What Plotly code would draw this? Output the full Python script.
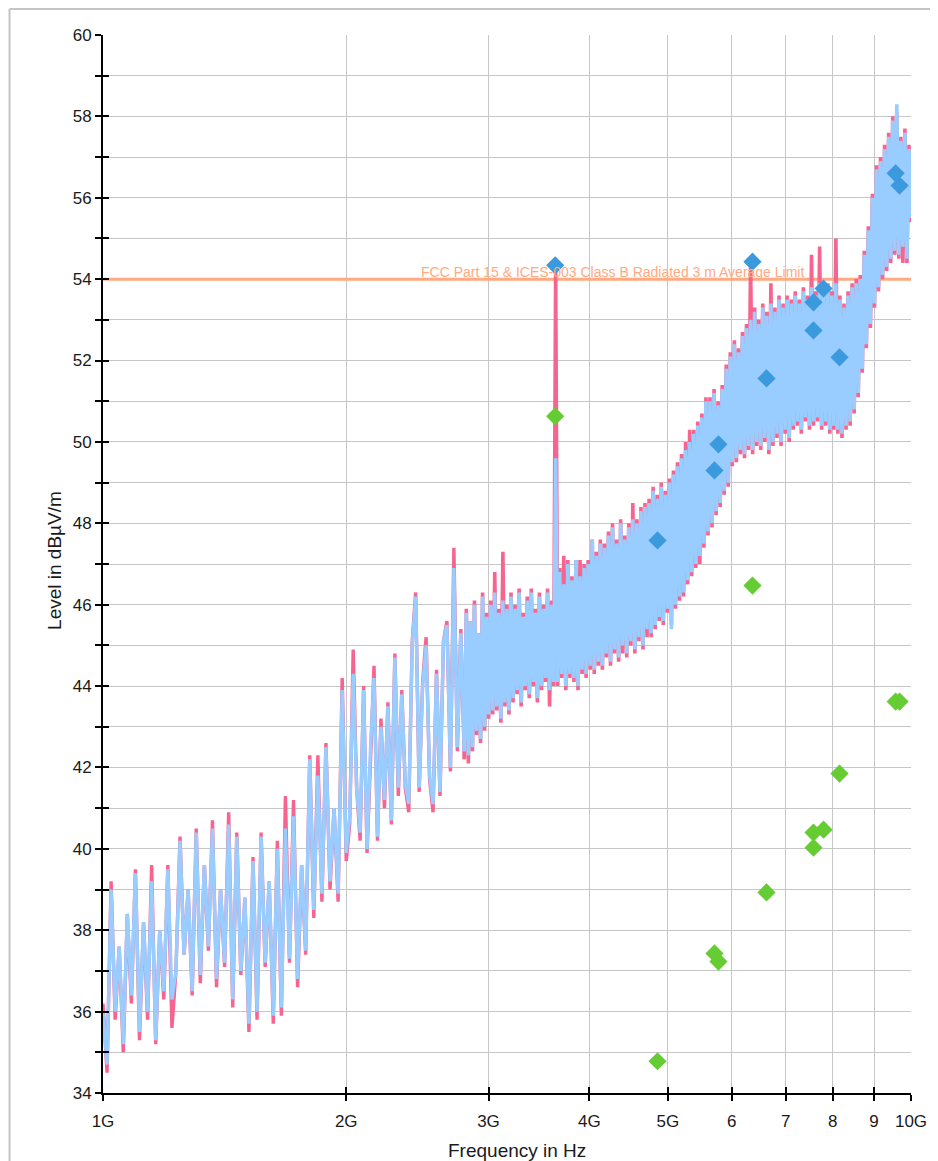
import numpy as np
import plotly.graph_objects as go

# ---------------- data ----------------
# sweep grid (Hz): three sweep segments
seg_a = np.geomspace(1e9, 2e9, 61)
seg_b = np.geomspace(2e9, 2.8e9, 35)[1:]
seg_c = np.geomspace(2.8e9, 1e10, 221)[1:]

# light-blue trace (dBuV/m)
blue_a = [36.0, 34.7, 39.0, 36.0, 37.6, 35.2, 38.4, 36.4, 39.4, 35.5,
          38.2, 36.0, 39.2, 35.3, 38.0, 36.5, 39.5, 36.3, 37.0, 40.2,
          37.4, 39.0, 36.5, 40.4, 36.9, 39.6, 37.6, 40.5, 36.8, 39.0,
          37.2, 40.6, 36.3, 40.3, 37.0, 38.8, 35.7, 39.7, 36.0, 40.3,
          37.2, 39.2, 35.9, 40.0, 36.1, 40.5, 37.3, 40.8, 36.8, 39.6,
          37.5, 42.2, 38.5, 41.8, 38.9, 42.5, 39.2, 41.0, 38.9, 43.9,
          39.9]
blue_b = [40.8, 44.3, 41.5, 40.4, 43.9, 40.0, 42.5, 44.2, 40.3, 43.0,
          41.2, 43.5, 40.7, 44.7, 41.5, 43.8, 41.6, 41.1, 45.0, 46.2,
          41.5, 44.0, 45.0, 41.8, 41.1, 44.3, 41.4, 45.1, 45.5, 42.0,
          46.9, 42.5, 45.3, 42.4]
blue_c = [45.8, 42.3, 45.6, 42.5, 46.0, 42.9, 45.3, 42.7, 46.2, 43.0, 45.7,
          43.3, 46.0, 43.4, 46.3, 43.5, 45.8, 43.2, 46.1, 43.6, 45.9, 43.4, 46.2,
          43.7, 45.9, 43.9, 46.3, 43.6, 45.7, 44.0, 46.1, 43.8, 46.3, 44.1, 45.8,
          43.7, 46.2, 44.0, 45.9, 44.2, 46.3, 43.9, 46.0, 44.1,
          49.6,
          44.1, 46.8, 44.3, 46.5, 44.0, 47.0, 44.3, 46.6, 44.2, 47.1, 44.0, 46.7,
          44.4, 46.9, 44.3, 47.0, 44.5, 47.6,
          44.4, 47.2, 44.6, 47.5, 44.5, 47.4, 44.8, 47.7, 44.6, 47.9, 44.9, 47.5,
          44.7, 48.0, 45.0, 47.6, 44.8, 47.9, 45.1, 48.1, 44.9, 48.0, 45.2, 48.3,
          45.0, 48.4, 45.4,
          48.5, 45.3, 48.8, 45.5, 48.6, 45.7, 48.9, 45.6, 48.7, 45.9, 49.0,
          45.4, 49.2, 46.0, 49.4, 46.2, 49.6,
          46.3, 49.8, 46.6, 50.0, 46.8, 50.2, 47.0, 50.4, 47.2, 50.6, 47.5, 51.0, 47.8,
          51.0, 48.0, 51.2, 48.3, 50.9, 48.5, 51.3, 48.8, 51.8,
          49.0, 52.1, 49.5, 52.4, 49.6, 52.2, 49.8, 52.6, 49.7, 52.8,
          49.9, 53.0, 49.8, 53.2, 50.0, 52.9, 49.9, 53.3, 50.1, 53.1, 49.8, 53.4,
          50.0, 53.2, 50.2, 53.5, 50.0, 53.3, 50.3, 53.5, 50.1, 53.4, 50.4, 53.6,
          50.5, 53.4, 50.3, 53.7, 50.6, 53.5, 50.4, 53.8, 50.5, 53.6, 50.6, 53.9,
          50.4, 53.7, 50.5, 53.8, 50.3, 53.6, 50.4, 53.9, 50.3, 53.5, 50.2, 53.3,
          50.4, 53.6, 50.5, 53.8, 50.8, 53.9, 51.2, 54.0, 51.8, 54.6, 52.4, 55.2,
          52.9, 56.0, 53.4, 56.7, 53.8, 56.9, 54.1, 57.2, 54.3, 57.5, 54.5, 57.9,
          54.7, 58.3, 54.6, 57.4, 54.8, 57.6, 54.5, 57.2, 55.5]

# pink trace (dBuV/m)
pink_a = [36.2, 34.5, 39.2, 35.8, 37.6, 35.0, 38.4, 36.2, 39.5, 35.3,
          38.2, 35.8, 39.6, 35.2, 38.0, 36.3, 39.6, 35.6, 37.0, 40.3,
          37.4, 39.0, 36.4, 40.5, 36.7, 39.6, 37.5, 40.7, 36.6, 39.0,
          37.1, 40.9, 36.1, 40.4, 36.9, 38.8, 35.5, 39.8, 35.8, 40.4,
          37.1, 39.2, 35.7, 40.2, 35.9, 41.3, 37.2, 41.2, 36.6, 39.6,
          37.4, 42.3, 38.3, 42.3, 38.7, 42.6, 39.0, 41.0, 38.7, 44.2,
          39.7]
pink_b = [40.6, 44.9, 41.5, 40.2, 44.0, 39.9, 42.5, 44.5, 40.2, 43.2,
          41.0, 43.6, 40.6, 44.8, 41.3, 43.9, 41.5, 40.9, 45.1, 46.3,
          41.4, 44.1, 45.2, 41.7, 40.9, 44.4, 41.3, 45.1, 45.6, 41.9,
          47.4, 42.4, 45.4, 42.2]
pink_c = [45.9, 42.1, 45.6, 42.4, 46.1, 42.8, 45.3, 42.6, 46.3, 42.9, 45.8,
          43.2, 46.1, 43.3, 46.8, 43.4, 45.9, 43.1, 47.3, 43.5, 46.0, 43.3, 46.3,
          43.6, 46.0, 43.8, 46.4, 43.5, 45.8, 43.9, 46.2, 43.7, 46.4, 44.0, 45.9,
          43.6, 46.3, 43.9, 46.0, 44.1, 46.4, 43.5, 46.1, 44.0,
          54.3,
          44.0, 46.9, 44.2, 47.2, 43.9, 47.1, 44.2, 46.7, 44.1, 47.1, 43.9, 47.1,
          44.3, 47.0, 44.2, 47.1, 44.4, 47.6,
          44.3, 47.3, 44.5, 47.6, 44.4, 47.5, 44.7, 47.8, 44.5, 48.0, 44.8, 47.6,
          44.6, 48.1, 44.8, 47.7, 44.7, 48.0, 45.0, 48.5, 44.8, 48.1, 45.1, 48.4,
          44.9, 48.5, 45.2,
          48.6, 45.2, 48.9, 45.4, 48.7, 45.6, 49.0, 45.5, 48.8, 45.8, 49.1,
          45.5, 49.3, 45.9, 49.5, 46.1, 49.7,
          46.2, 50.0, 46.5, 50.3, 46.7, 50.3, 46.9, 50.5, 47.0, 50.7, 47.4, 51.1, 47.7,
          51.1, 47.9, 51.3, 48.2, 51.0, 48.4, 51.4, 48.7, 51.9,
          48.9, 52.2, 49.4, 52.5, 49.5, 52.3, 49.7, 52.7, 49.6, 52.9,
          49.8, 54.45, 49.7, 53.3, 49.9, 53.0, 49.8, 53.4, 50.0, 53.2, 49.7, 53.9,
          49.9, 53.3, 50.1, 53.6, 49.9, 53.4, 50.2, 53.6, 50.0, 53.5, 50.3, 53.7,
          50.4, 53.5, 50.2, 53.8, 50.5, 53.6, 50.3, 54.6, 50.4, 53.7, 50.5, 54.8,
          50.3, 53.8, 50.4, 53.9, 50.2, 53.7, 50.3, 55.0, 50.2, 53.6, 50.1, 53.4,
          50.3, 53.7, 50.4, 53.9, 50.7, 54.0, 51.1, 54.1, 51.7, 54.7, 52.3, 55.3,
          52.8, 56.1, 53.3, 56.8, 53.7, 57.0, 54.0, 57.3, 54.2, 57.6, 54.4, 58.0,
          54.6, 58.1, 54.5, 57.5, 54.4, 57.7, 54.4, 57.3, 55.4]

assert len(blue_a) == len(pink_a) == len(seg_a)
assert len(blue_b) == len(pink_b) == len(seg_b)
assert len(blue_c) == len(pink_c) == len(seg_c)

# final measurement points
meas_freq_ghz = [3.628, 4.856, 5.712, 5.777, 6.365, 6.625, 7.574, 7.574, 7.794, 8.157, 9.572, 9.68]
peak_vals = [54.34, 47.58, 49.30, 49.94, 54.43, 51.56, 53.43, 52.74, 53.77, 52.08, 56.60, 56.30]
avg_vals = [50.63, 34.78, 37.43, 37.23, 46.47, 38.93, 40.40, 40.03, 40.47, 41.85, 43.62, 43.62]

limit_freq = [1e9, 1e10]
limit_level = [54, 54]
limit_label = "FCC Part 15 & ICES-003 Class B Radiated 3 m Average Limit"
limit_label_end_hz = 7.42e9

x_tick_vals = [1e9, 2e9, 3e9, 4e9, 5e9, 6e9, 7e9, 8e9, 9e9, 1e10]
x_tick_text = ["1G", "2G", "3G", "4G", "5G", "6", "7", "8", "9", "10G"]
y_tick_vals = list(range(34, 61))
y_tick_text = [str(v) if v % 2 == 0 else "" for v in y_tick_vals]

# ---------------- styles ----------------
FONT = "Liberation Sans, Arial, Helvetica, sans-serif"
PINK = "#f7648f"
LBLUE = "#99ccff"
MBLUE = "#3b99de"
GREEN = "#66cc33"
ORANGE = "#ffaa80"
GRID = "#c6c6c6"
TXT = "#1a1a1a"

meas_freq = [f * 1e9 for f in meas_freq_ghz]
freq_ab = np.concatenate([seg_a, seg_b])
freq_c = np.concatenate([seg_b[-1:], seg_c])

fig = go.Figure()
fig.add_trace(go.Scatter(x=limit_freq, y=limit_level, mode="lines",
                         line=dict(color=ORANGE, width=3), hoverinfo="skip"))
# pink (underneath)
fig.add_trace(go.Scatter(x=freq_ab, y=pink_a + pink_b, mode="lines",
                         line=dict(color=PINK, width=3.4)))
fig.add_trace(go.Scatter(x=freq_c, y=pink_b[-1:] + pink_c, mode="lines",
                         line=dict(color=PINK, width=3.6)))
# light blue (on top)
fig.add_trace(go.Scatter(x=freq_ab, y=blue_a + blue_b, mode="lines",
                         line=dict(color=LBLUE, width=3.4)))
fig.add_trace(go.Scatter(x=freq_c, y=blue_b[-1:] + blue_c, mode="lines",
                         line=dict(color=LBLUE, width=3.6)))
# final measurement markers
fig.add_trace(go.Scatter(x=meas_freq, y=peak_vals, mode="markers", xaxis="x2", yaxis="y2",
                         marker=dict(symbol="diamond", size=14, color=MBLUE)))
fig.add_trace(go.Scatter(x=meas_freq, y=avg_vals, mode="markers", xaxis="x2", yaxis="y2",
                         marker=dict(symbol="diamond", size=14, color=GREEN)))

axis_common = dict(showgrid=True, gridcolor=GRID, gridwidth=1.3, zeroline=False,
                   showline=True, linecolor="black", linewidth=2,
                   ticks="outside", ticklen=6, tickwidth=2, tickcolor="black",
                   tickfont=dict(family=FONT, size=17, color=TXT), automargin=False)

# the page body adds an 8 px offset, so the figure is sized 8 px smaller
fig.update_layout(
    width=930, height=1153,
    margin=dict(l=95, r=27, t=27, b=68),
    paper_bgcolor="white", plot_bgcolor="white",
    showlegend=False,
    font=dict(family=FONT, size=17, color=TXT),
    xaxis=dict(type="log", range=[9, 10], tickvals=x_tick_vals, ticktext=x_tick_text,
               ticklabelstandoff=6, **axis_common),
    yaxis=dict(range=[34, 60], tickvals=y_tick_vals, ticktext=y_tick_text, **axis_common),
    xaxis2=dict(type="log", range=[9, 10], tickvals=x_tick_vals, overlaying="x", anchor="y2",
                side="bottom", showgrid=False, zeroline=False, showline=False,
                ticks="inside", ticklen=6, tickwidth=2, tickcolor="black", showticklabels=False),
    yaxis2=dict(range=[34, 60], tickvals=y_tick_vals, overlaying="y", anchor="x2",
                side="left", showgrid=False, zeroline=False, showline=False,
                ticks="inside", ticklen=6, tickwidth=2, tickcolor="black", showticklabels=False),
    annotations=[
        dict(text=limit_label, x=np.log10(limit_label_end_hz), y=54, xref="x", yref="y",
             xanchor="right", yanchor="bottom", yshift=-3, showarrow=False,
             font=dict(family=FONT, size=14, color=ORANGE)),
        dict(text="Frequency in Hz", x=0.5126, y=-0.0542, xref="paper", yref="paper",
             xanchor="center", yanchor="middle", showarrow=False,
             font=dict(family=FONT, size=19, color=TXT)),
        dict(text="Level in dBµV/m", x=-0.0599, y=0.5035, xref="paper", yref="paper",
             xanchor="center", yanchor="middle", textangle=-90, showarrow=False,
             font=dict(family=FONT, size=19, color=TXT)),
    ],
    shapes=[
        dict(type="line", xref="paper", yref="paper", x0=-0.1157, x1=-0.1157, y0=-0.2, y1=1.0246,
             line=dict(color="#c4c4c4", width=2)),
        dict(type="line", xref="paper", yref="paper", x0=-0.1157, x1=1.2, y0=1.0246, y1=1.0246,
             line=dict(color="#c4c4c4", width=2)),
    ],
)

fig.write_html("out.html")
